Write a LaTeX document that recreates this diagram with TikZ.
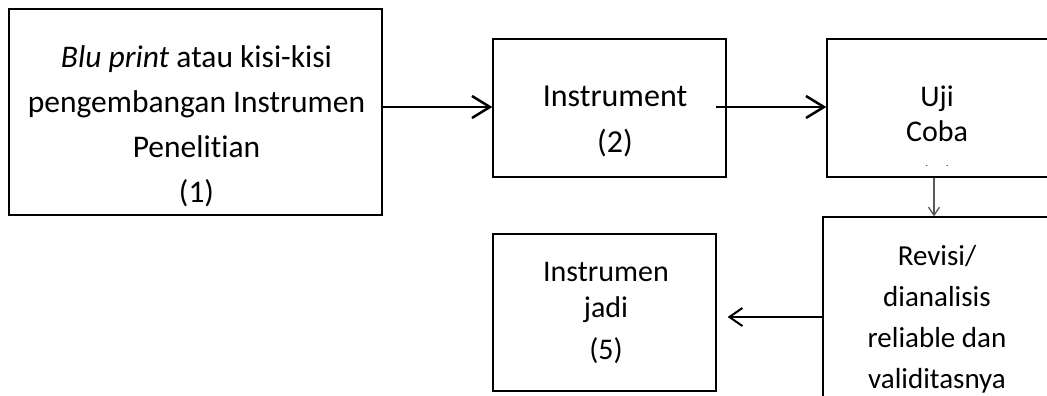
\documentclass[tikz,border=0pt]{standalone}
\usepackage{fontspec}
\setmainfont[Ligatures=NoCommon]{Carlito}
\usetikzlibrary{arrows.meta}

\begin{document}
\begin{tikzpicture}[x=1pt, y=-1pt,
    kotak/.style={draw, line width=1.3pt, inner sep=0pt},
    teks/.style={align=center, inner sep=0pt, anchor=north},
    panah/.style={-{Straight Barb[length=18pt, width=22pt]}, line width=2.5pt}]
    \clip (0,0) rectangle (1047,396);
    % kotak
    \node[kotak, minimum width=373pt, minimum height=206pt] (b1) at (195.5,112) {};
    \node[kotak, minimum width=233pt, minimum height=138pt] (b2) at (609.5,108) {};
    \node[kotak, minimum width=230pt, minimum height=138pt] (b3) at (942,108) {};
    \node[kotak, minimum width=232pt, minimum height=200pt] (b4) at (939,317) {};
    \node[kotak, minimum width=223pt, minimum height=157pt] (b5) at (604.5,312.5) {};
    % isi kotak
    \node[teks, font=\fontsize{31.5}{45}\selectfont] (t1) at (196.5,45)
        {\textit{Blu print} atau kisi-kisi\\pengembangan Instrumen\\Penelitian\\(1)};
    \node[teks, font=\fontsize{32}{45.5}\selectfont] (t2) at (615,86) {Instrument\\(2)};
    \begin{scope}
        \clip (b3.north west) rectangle ([yshift=12.5pt]b3.south east); % baris ketiga terpotong
        \node[teks, font=\fontsize{30}{35.5}\selectfont] (t3) at (937,85.5) {Uji\\Coba\\[10.5pt](3)};
    \end{scope}
    \node[teks, font=\fontsize{29}{41}\selectfont] (t4) at (937,245) {Revisi/\\dianalisis\\reliable dan\\validitasnya};
    \node[teks, font=\fontsize{30}{36}\selectfont] (t5) at (606,262) {Instrumen\\jadi\\[6pt](5)};
    % panah
    \draw[panah] ([yshift=5pt]b1.east) -- ([yshift=1pt]b2.west);
    \draw[panah] ([xshift=-11pt, yshift=1pt]b2.east) -- ([yshift=1pt]b3.west);
    \draw[-{Straight Barb[length=8pt, width=11pt]}, line width=1.3pt, black!65]
        ([xshift=-8pt]b3.south) -- ([xshift=-5pt]b4.north);
    \draw[-{Straight Barb[length=13pt, width=18pt]}, line width=2pt]
        (b4.west) -- ([xshift=11pt, yshift=-4.5pt]b5.east);
\end{tikzpicture}
\end{document}
